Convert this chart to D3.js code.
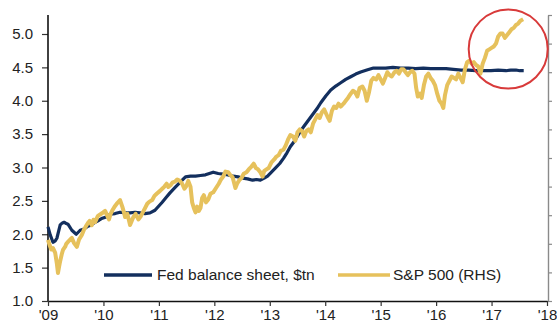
<!DOCTYPE html>
<html>
<head>
<meta charset="utf-8">
<script src="https://cdn.jsdelivr.net/npm/d3@7"></script>
<style>
  html, body { margin: 0; padding: 0; background: #fff; }
  svg { display: block; font-family: "Liberation Sans", Arial, sans-serif; }
</style>
</head>
<body>
<svg id="chart" width="557" height="324"></svg>
<script>
// Fed balance sheet, $tn (date as fractional year)
const fedDates = [2009.00, 2009.04, 2009.09, 2009.13, 2009.16, 2009.22, 2009.26, 2009.29, 2009.33, 2009.36, 2009.43, 2009.51, 2009.58,
  2009.65, 2009.72, 2009.78, 2009.85, 2009.92, 2009.98, 2010.05, 2010.12, 2010.21, 2010.30, 2010.39, 2010.48, 2010.57, 2010.66, 2010.75, 2010.84, 2010.93, 2011.06,
  2011.13, 2011.20, 2011.28, 2011.35, 2011.42, 2011.48, 2011.57, 2011.66, 2011.75, 2011.84, 2011.91, 2011.98, 2012.07, 2012.16, 2012.25, 2012.34, 2012.43, 2012.51, 2012.60, 2012.69,
  2012.76, 2012.83, 2012.90, 2012.96, 2013.03, 2013.10, 2013.18, 2013.25, 2013.31, 2013.37, 2013.44, 2013.50, 2013.55, 2013.61, 2013.69, 2013.77, 2013.85, 2013.92, 2014.01, 2014.10,
  2014.19, 2014.28, 2014.37, 2014.46, 2014.55, 2014.64, 2014.75, 2014.87, 2014.98, 2015.09, 2015.22, 2015.36, 2015.50, 2015.63, 2015.77, 2015.90, 2016.04, 2016.18, 2016.31, 2016.45,
  2016.58, 2016.72, 2016.86, 2016.99, 2017.12, 2017.26, 2017.35, 2017.44, 2017.51, 2017.58];
const fedValues = [2.11, 1.99, 1.88, 1.90, 1.94, 2.14, 2.17, 2.18, 2.16, 2.15, 2.06, 2.00, 2.06,
  2.08, 2.12, 2.14, 2.18, 2.21, 2.24, 2.26, 2.30, 2.31, 2.33, 2.32, 2.32, 2.33, 2.32, 2.31, 2.32, 2.36, 2.48,
  2.55, 2.62, 2.69, 2.75, 2.81, 2.86, 2.87, 2.87, 2.88, 2.89, 2.91, 2.93, 2.91, 2.90, 2.89, 2.87, 2.86, 2.84, 2.83, 2.81,
  2.82, 2.81, 2.84, 2.87, 2.93, 2.99, 3.06, 3.14, 3.22, 3.31, 3.39, 3.47, 3.54, 3.61, 3.70, 3.79, 3.88, 3.97, 4.07, 4.16,
  4.22, 4.27, 4.32, 4.36, 4.40, 4.43, 4.46, 4.49, 4.49, 4.49, 4.50, 4.49, 4.49, 4.48, 4.49, 4.48, 4.48, 4.48, 4.47, 4.46,
  4.46, 4.45, 4.45, 4.45, 4.46, 4.45, 4.46, 4.46, 4.45, 4.45];

// S&P 500 index level (right-hand scale)
const spDates = [2009.00, 2009.03, 2009.06, 2009.09, 2009.13, 2009.16, 2009.18, 2009.20, 2009.22, 2009.25,
  2009.27, 2009.31, 2009.33, 2009.36, 2009.40, 2009.43, 2009.47, 2009.52, 2009.56, 2009.61,
  2009.65, 2009.68, 2009.72, 2009.75, 2009.79, 2009.82, 2009.85, 2009.90, 2009.94, 2009.98,
  2010.03, 2010.07, 2010.10, 2010.13, 2010.17, 2010.21, 2010.25, 2010.30, 2010.34, 2010.37,
  2010.39, 2010.43, 2010.46, 2010.48, 2010.51, 2010.54, 2010.58, 2010.63, 2010.67, 2010.71,
  2010.75, 2010.79, 2010.83, 2010.88, 2010.92, 2010.96, 2011.02, 2011.06, 2011.10, 2011.14,
  2011.17, 2011.21, 2011.25, 2011.29, 2011.33, 2011.38, 2011.42, 2011.46, 2011.49, 2011.53,
  2011.57, 2011.60, 2011.63, 2011.66, 2011.69, 2011.72, 2011.75, 2011.78, 2011.81, 2011.85,
  2011.89, 2011.93, 2011.98, 2012.03, 2012.08, 2012.12, 2012.16, 2012.20, 2012.25, 2012.29,
  2012.33, 2012.38, 2012.41, 2012.45, 2012.49, 2012.53, 2012.58, 2012.62, 2012.67, 2012.71,
  2012.75, 2012.79, 2012.83, 2012.87, 2012.90, 2012.94, 2012.98, 2013.03, 2013.08, 2013.12,
  2013.16, 2013.20, 2013.25, 2013.29, 2013.33, 2013.37, 2013.42, 2013.46, 2013.50, 2013.54,
  2013.58, 2013.62, 2013.66, 2013.70, 2013.74, 2013.78, 2013.82, 2013.86, 2013.90, 2013.94,
  2013.98, 2014.04, 2014.08, 2014.12, 2014.16, 2014.20, 2014.24, 2014.28, 2014.33, 2014.37,
  2014.41, 2014.46, 2014.50, 2014.54, 2014.58, 2014.62, 2014.67, 2014.71, 2014.75, 2014.79,
  2014.83, 2014.87, 2014.92, 2014.96, 2015.00, 2015.04, 2015.08, 2015.12, 2015.16, 2015.20,
  2015.25, 2015.29, 2015.33, 2015.37, 2015.41, 2015.45, 2015.49, 2015.53, 2015.57, 2015.61,
  2015.64, 2015.67, 2015.71, 2015.74, 2015.78, 2015.82, 2015.86, 2015.90, 2015.94, 2015.98,
  2016.02, 2016.06, 2016.10, 2016.13, 2016.16, 2016.20, 2016.24, 2016.28, 2016.32, 2016.36,
  2016.40, 2016.44, 2016.48, 2016.52, 2016.56, 2016.60, 2016.64, 2016.68, 2016.72, 2016.76,
  2016.80, 2016.84, 2016.88, 2016.92, 2016.96, 2017.00, 2017.04, 2017.08, 2017.12, 2017.16,
  2017.20, 2017.24, 2017.28, 2017.32, 2017.36, 2017.40, 2017.44, 2017.48, 2017.52, 2017.57];
const spValues = [927, 890, 860, 870, 836, 760, 696, 740, 780, 830,
  857, 880, 900, 913, 930, 941, 905, 878, 930, 962,
  1000, 1020, 1045, 1060, 1030, 1068, 1052, 1095, 1105, 1115,
  1130, 1095, 1070, 1110, 1140, 1165, 1185, 1206, 1160, 1120,
  1087, 1110, 1065, 1031, 1060, 1087, 1110, 1070, 1090, 1120,
  1150, 1180, 1195, 1206, 1235, 1250, 1270, 1285, 1300, 1320,
  1297, 1310, 1330, 1335, 1350, 1340, 1320, 1285, 1300, 1340,
  1300, 1190, 1150, 1120, 1160, 1130, 1150, 1220, 1240, 1190,
  1210, 1250, 1260, 1290, 1320, 1350, 1370, 1405, 1400, 1380,
  1365, 1290, 1320, 1345, 1360, 1390, 1400, 1420, 1440, 1460,
  1430, 1420, 1400, 1370, 1410, 1420, 1430, 1470, 1490, 1510,
  1520, 1550, 1560, 1590, 1630, 1660, 1650, 1620, 1680, 1700,
  1690, 1650, 1690, 1700, 1680, 1740, 1770, 1800, 1780, 1820,
  1840, 1790, 1760, 1830, 1860, 1850, 1880, 1860, 1880, 1900,
  1920, 1950, 1970, 1960, 1930, 1990, 2000, 1970, 1900, 1960,
  2040, 2060, 2050, 2080, 2050, 2020, 2060, 2100, 2080, 2070,
  2100, 2110, 2090, 2120, 2120, 2100, 2080, 2100, 2110, 2090,
  1990, 1930, 1950, 1920, 2010, 2070, 2090, 2060, 2040, 2010,
  1950, 1900, 1880, 1850, 1940, 2010, 2040, 2070, 2060, 2050,
  2090, 2060, 2030, 2120, 2170, 2180, 2160, 2170, 2150, 2140,
  2090, 2160, 2200, 2250, 2260, 2270, 2280, 2300, 2350, 2370,
  2370, 2340, 2360, 2380, 2400, 2410, 2430, 2440, 2460, 2470];

const xTickYears = [2009, 2010, 2011, 2012, 2013, 2014, 2015, 2016, 2017, 2018];
const xTickLabels = ["'09", "'10", "'11", "'12", "'13", "'14", "'15", "'16", "'17", "'18"];
const leftTicks = [1.0, 1.5, 2.0, 2.5, 3.0, 3.5, 4.0, 4.5, 5.0];
const rightTicks = [500, 700, 900, 1100, 1300, 1500, 1700, 1900, 2100, 2300, 2500];
const seriesNames = ["Fed balance sheet, $tn", "S&P 500 (RHS)"];

const navy = "#132f5e";
const gold = "#e6c15c";
const ink = "#222";

const svg = d3.select("#chart");
const plot = { left: 48, right: 547, top: 15, bottom: 301 };

const x = d3.scaleLinear().domain([2009, 2018]).range([plot.left, plot.right]);
const yL = d3.scaleLinear().domain([1, 5]).range([plot.bottom, 34]);
const yR = d3.scaleLinear().domain([500, 2500]).range([plot.bottom, plot.top]);

// Left axis
const leftAxis = svg.append("g")
  .attr("transform", `translate(${plot.left},0)`)
  .call(d3.axisLeft(yL).tickValues(leftTicks).tickFormat(d3.format(".1f")).tickSize(6).tickSizeOuter(0));
leftAxis.select(".domain").remove();
leftAxis.append("line")
  .attr("x1", 0).attr("x2", 0).attr("y1", plot.top).attr("y2", plot.bottom)
  .attr("stroke", "#111").attr("stroke-width", 1.6);
leftAxis.selectAll(".tick line").attr("stroke", "#333").attr("stroke-width", 1.2);
leftAxis.selectAll(".tick text").attr("x", -15).attr("fill", ink)
  .style("font-size", "15px");

// Right axis (ticks only)
const rightAxis = svg.append("g")
  .attr("transform", `translate(${plot.right + 1},0)`)
  .call(d3.axisRight(yR).tickValues(rightTicks).tickFormat("").tickSize(4).tickSizeOuter(0));
rightAxis.select(".domain").attr("stroke", "#8a8a8a").attr("stroke-width", 1.4);
rightAxis.selectAll(".tick line").attr("stroke", "#8a8a8a").attr("stroke-width", 1.2);

// Bottom axis
const bottomAxis = svg.append("g")
  .attr("transform", `translate(0,${plot.bottom})`)
  .call(d3.axisBottom(x).tickValues(xTickYears)
    .tickFormat((d, i) => xTickLabels[i]).tickSize(5).tickSizeOuter(0));
bottomAxis.select(".domain").attr("stroke", "#111").attr("stroke-width", 1.6);
bottomAxis.selectAll(".tick line").attr("stroke", "#333").attr("stroke-width", 1.2);
bottomAxis.selectAll(".tick text").attr("y", 8).attr("fill", ink)
  .style("font-size", "15px");

// Series lines
const fedData = fedDates.map((d, i) => [d, fedValues[i]]);
const spData = spDates.map((d, i) => [d, spValues[i]]);

svg.append("path")
  .datum(fedData)
  .attr("fill", "none")
  .attr("stroke", navy)
  .attr("stroke-width", 3.2)
  .attr("stroke-linejoin", "round")
  .attr("d", d3.line().x(d => x(d[0])).y(d => yL(d[1])));

svg.append("path")
  .datum(spData)
  .attr("fill", "none")
  .attr("stroke", gold)
  .attr("stroke-width", 4)
  .attr("stroke-linejoin", "round")
  .attr("d", d3.line().x(d => x(d[0])).y(d => yR(d[1])));

// Legend
const legend = svg.append("g").attr("transform", "translate(0,275)");
[[104, 152, navy, 157, seriesNames[0]], [338, 390, gold, 393, seriesNames[1]]].forEach(([x1, x2, c, tx, label]) => {
  legend.append("line").attr("x1", x1).attr("x2", x2).attr("y1", 0).attr("y2", 0)
    .attr("stroke", c).attr("stroke-width", 3.5);
  legend.append("text").attr("x", tx).attr("y", 0).attr("dy", "0.35em")
    .attr("fill", ink).style("font-size", "15.5px").text(label);
});

// Highlight ring around the latest rally
svg.append("circle")
  .attr("cx", x(2017.30))
  .attr("cy", yL(4.775))
  .attr("r", 39.5)
  .attr("fill", "none")
  .attr("stroke", "#d83a3a")
  .attr("stroke-width", 2);
</script>
</body>
</html>
